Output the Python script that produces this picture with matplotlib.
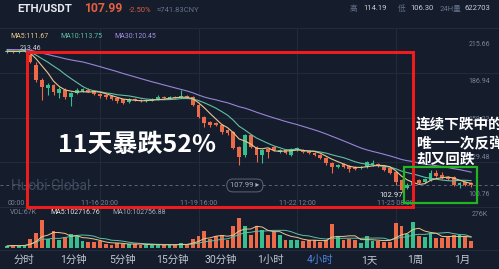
import numpy as np
import pandas as pd
import matplotlib
matplotlib.use('Agg')
import matplotlib.pyplot as plt
from matplotlib.patches import Rectangle
from matplotlib.transforms import blended_transform_factory

plt.rcParams['font.family'] = ['Roboto', 'Noto Sans CJK SC', 'DejaVu Sans']

# ETH/USDT 4h candles starting 11-14 00:00 (index 1 = first bar on screen)
prior_closes = [214.2, 213.5, 212.8, 213.9, 212.1, 211.4, 212.6, 211.9,
                210.7, 211.3, 210.2, 210.9, 209.8, 210.4, 209.6, 210.1]

opens = [209.6, 210.2, 209.5, 210.6, 207.5, 199.7, 188.3, 182.2, 184.5, 178.4,
         180.7, 175.3, 178.4, 180.0, 181.0, 179.8, 177.5, 176.5, 175.8, 174.5,
         173.5, 171.2, 174.0, 173.0, 172.0, 172.5, 173.5, 175.3, 174.6, 175.5,
         175.0, 175.8, 175.3, 169.2, 160.1, 156.3, 155.5, 154.0, 150.2, 148.7,
         137.3, 131.2, 146.4, 137.3, 131.2, 135.8, 137.3, 133.5, 135.0, 131.2,
         135.0, 135.0, 134.2, 132.7, 131.2, 128.9, 125.1, 122.1, 124.4, 123.0,
         122.1, 121.3, 122.1, 123.6, 124.4, 122.1, 121.3, 118.3, 112.2, 106.1,
         108.4, 112.2, 110.6, 112.2, 117.5, 116.0, 114.4, 114.4, 108.4, 110.6,
         109.9]
highs = [211.0, 210.8, 211.2, 213.46, 210.0, 202.0, 189.5, 186.0, 185.5, 183.0,
         182.0, 179.5, 182.0, 182.5, 181.8, 180.5, 178.5, 177.5, 176.5, 175.2,
         174.0, 174.8, 174.8, 173.8, 173.5, 174.2, 176.8, 176.0, 176.0, 176.2,
         180.5, 176.5, 176.0, 170.0, 161.0, 157.0, 156.5, 155.0, 151.0, 149.5,
         138.0, 147.5, 147.5, 138.0, 135.8, 136.5, 138.0, 135.8, 135.5, 136.5,
         137.5, 136.0, 135.0, 133.5, 132.0, 129.7, 125.9, 124.4, 125.0, 123.6,
         122.8, 122.8, 126.5, 127.4, 125.0, 122.8, 122.1, 119.0, 113.0, 109.9,
         111.5, 113.0, 113.7, 119.8, 119.8, 118.3, 115.2, 115.2, 110.6, 111.4,
         110.6]
lows = [208.9, 209.0, 209.1, 209.8, 201.5, 186.5, 173.0, 176.9, 176.9, 174.6,
        174.0, 168.5, 177.5, 179.0, 178.8, 176.8, 174.5, 174.0, 173.0, 171.0,
        170.2, 170.5, 172.0, 171.5, 171.2, 172.0, 173.0, 174.0, 174.0, 174.3,
        174.5, 174.2, 168.5, 159.0, 152.5, 152.5, 153.0, 147.2, 146.4, 135.5,
        123.6, 129.5, 136.5, 125.9, 125.1, 129.0, 134.5, 133.0, 132.0, 130.5,
        134.5, 133.0, 132.0, 130.5, 128.2, 123.6, 117.5, 121.3, 121.0, 118.3,
        119.8, 120.5, 121.3, 123.0, 122.0, 119.0, 116.8, 108.4, 102.97, 105.3,
        107.6, 109.0, 110.0, 111.4, 114.4, 113.0, 112.2, 107.6, 106.1, 107.6,
        106.9]
closes = [210.2, 209.5, 210.6, 211.2, 202.2, 188.3, 183.0, 184.5, 179.2, 181.5,
          175.3, 178.4, 180.7, 181.2, 179.5, 177.5, 176.2, 175.0, 174.0, 172.5,
          171.0, 174.0, 172.8, 172.0, 172.8, 173.5, 175.3, 174.6, 175.3, 174.8,
          175.8, 175.0, 169.2, 160.1, 155.5, 154.0, 154.0, 148.7, 147.9, 136.5,
          129.7, 146.4, 137.3, 131.2, 135.0, 133.5, 135.0, 135.0, 132.7, 135.8,
          136.5, 133.5, 132.7, 131.2, 128.9, 125.1, 122.1, 123.6, 122.1, 120.5,
          120.5, 122.1, 125.9, 125.1, 122.9, 119.8, 117.5, 110.6, 104.6, 108.4,
          110.6, 109.9, 113.0, 117.5, 115.2, 113.7, 112.9, 108.4, 109.9, 108.4,
          107.99]
# volume in K
volumes = [16, 24, 16, 24, 73, 122, 227, 73, 138, 65,
           89, 113, 97, 57, 49, 49, 57, 32, 24, 41,
           32, 32, 32, 24, 24, 24, 32, 24, 24, 24,
           41, 32, 73, 97, 138, 73, 97, 105, 65, 178,
           243, 178, 105, 178, 146, 105, 130, 105, 65, 65,
           65, 57, 65, 65, 49, 65, 194, 97, 65, 73,
           65, 41, 97, 57, 57, 49, 49, 203, 178, 113,
           211, 97, 89, 122, 81, 81, 89, 105, 105, 89,
           57]

time_idx = [0, 17, 34, 51, 68]
time_labels = ['00:00', '11-16 20:00', '11-19 16:00', '11-22 12:00', '11-25 08:00']
price_ticks = [215.66, 186.94, 158.22, 129.48, 100.76]
tabs = ['分时', '1分钟', '5分钟', '15分钟', '30分钟', '1小时', '4小时', '1天', '1周', '1月']
tab_x = [24, 73, 123, 172, 221, 270, 320, 369, 415, 462]

BG = '#151c2c'
UP = '#35bf8c'
DOWN = '#ec6a48'
GRID = '#222b3c'
AXT = '#7a8498'

W, H = 499, 269
fig = plt.figure(figsize=(W / 100, H / 100), dpi=100, facecolor=BG)


def frac(x0, y0, x1, y1):
    # pixel box (top-left origin) -> figure fraction rect
    return [x0 / W, 1 - y1 / H, (x1 - x0) / W, (y1 - y0) / H]


idx = np.arange(1, len(closes) + 1)
o = np.array(opens)
c = np.array(closes)
hi = np.array(highs)
lo = np.array(lows)
vol = np.array(volumes)
up = c >= o
cols = np.where(up, UP, DOWN)

full = pd.Series(prior_closes + closes)
ma5 = full.rolling(5, min_periods=1).mean().values[len(prior_closes):]
ma10 = full.rolling(10, min_periods=1).mean().values[len(prior_closes):]
ma30 = full.rolling(30, min_periods=1).mean().values[len(prior_closes):]

px_per_bar = 5.8
x0_px = 1.3
xlim = (-x0_px / px_per_bar, (W - x0_px) / px_per_bar)

# price panel
ax = fig.add_axes(frac(0, 28, W, 207))
ax.set_facecolor('none')
ax.set_xlim(*xlim)
ax.set_ylim(91.6, 227.84)
for s in ax.spines.values():
    s.set_visible(False)
ax.set_xticks([])
ax.set_yticks([])

for t in time_idx[1:]:
    ax.axvline(t, color=GRID, lw=0.8, zorder=0)
for yy in [0.0, 0.25, 0.5, 0.75]:
    ax.axhline(227.84 - (227.84 - 91.6) * yy, color=GRID, lw=0.8, zorder=0)

ax.vlines(idx, lo, hi, colors=cols, lw=0.8, zorder=2)
body = np.maximum(np.abs(c - o), 0.4)
ax.bar(idx, body, bottom=np.minimum(o, c), width=0.68, color=cols, zorder=3)

ax.plot(idx, ma30, color='#9b84d8', lw=0.8, zorder=4)
ax.plot(idx, ma10, color='#5fc0a5', lw=0.8, zorder=4)
ax.plot(idx, ma5, color='#e6c88e', lw=0.8, zorder=4)

last = closes[-1]
ax.axhline(last, color='#5d6679', lw=0.7, ls=(0, (3, 3)), zorder=1)
ax.text(42, last, '%.2f ▸' % last, color='#a8b0c0', fontsize=5.5, ha='center', va='center',
        bbox=dict(boxstyle='round,pad=0.45,rounding_size=0.8', fc=BG, ec='#5d6679', lw=0.7), zorder=5)

ylab = blended_transform_factory(ax.transAxes, ax.transData)
for p in price_ticks:
    ax.text(0.982, p, '%.2f' % p, transform=ylab, color=AXT, fontsize=5, ha='right', va='center', zorder=1)

tlab = blended_transform_factory(ax.transData, ax.transAxes)
for t, lab in zip(time_idx, time_labels):
    ax.text(max(t, 2.6), 0.022, lab, transform=tlab, color=AXT, fontsize=5, ha='center', va='center')

imax = int(np.argmax(hi))
imin = int(np.argmin(lo))
ax.text(idx[imax] + 1.0, hi[imax] - 1.5, '%.2f' % hi[imax], color='#c9ced8', fontsize=5, ha='center', va='center', zorder=6)
ax.text(idx[imin] + 0.3, lo[imin] - 2.5, '%.2f' % lo[imin], color='#e8ebf0', fontsize=5.5, ha='right', va='center', zorder=6)

# volume panel
axv = fig.add_axes(frac(0, 208, W, 248))
axv.set_facecolor('none')
axv.set_xlim(*xlim)
axv.set_ylim(0, 276 * 40 / 34)
for s in axv.spines.values():
    s.set_visible(False)
axv.set_xticks([])
axv.set_yticks([])
for t in time_idx[1:]:
    axv.axvline(t, color=GRID, lw=0.8, zorder=0)
axv.bar(idx, vol, width=0.68, color=cols, zorder=2)
vma5 = pd.Series(volumes).rolling(5, min_periods=1).mean().values
vma10 = pd.Series(volumes).rolling(10, min_periods=1).mean().values
axv.plot(idx, vma10, color='#5fc0a5', lw=0.7, zorder=3)
axv.plot(idx, vma5, color='#e6c88e', lw=0.7, zorder=3)
axv.text(0.978, 276, '276K', transform=blended_transform_factory(axv.transAxes, axv.transData),
         color=AXT, fontsize=5, ha='right', va='center')

# overlay in pixel coordinates for header, tabs and annotations
ov = fig.add_axes([0, 0, 1, 1])
ov.set_xlim(0, W)
ov.set_ylim(H, 0)
ov.axis('off')
ov.patch.set_alpha(0)

ov.plot([0, W], [28, 28], color=GRID, lw=0.8)
ov.plot([0, W], [207, 207], color=GRID, lw=0.8)
ov.plot([0, W], [250, 250], color=GRID, lw=0.8)

ov.text(17, 9, 'ETH/USDT', color='#e6e9ef', fontsize=8.2, fontweight='bold', va='center')
ov.text(84, 9, '107.99', color='#e5603f', fontsize=8.7, fontweight='bold', va='center')
ov.text(129, 9.5, '-2.50%', color='#d65d44', fontsize=5.5, va='center')
ov.text(157, 9.5, '≈741.83CNY', color='#66738c', fontsize=5.5, va='center')
ov.text(350, 8, '高', color='#66738c', fontsize=5.5, va='center')
ov.text(363, 8, '114.19', color='#c8cdd6', fontsize=5.5, va='center')
ov.text(398, 8, '低', color='#66738c', fontsize=5.5, va='center')
ov.text(410, 8, '106.30', color='#c8cdd6', fontsize=5.5, va='center')
ov.text(440, 8, '24H量', color='#66738c', fontsize=5.5, va='center')
ov.text(465, 8, '622703', color='#c8cdd6', fontsize=5.5, va='center')

ov.text(10, 37, 'MA5:111.67', color='#e6c88e', fontsize=5, va='center')
ov.text(60, 37, 'MA10:113.75', color='#5fc0a5', fontsize=5, va='center')
ov.text(114, 37, 'MA30:120.45', color='#a58fde', fontsize=5, va='center')

ov.text(10, 213, 'VOL:67K', color=AXT, fontsize=5, va='center')
ov.text(50, 213, 'MA5:102716.76', color='#e6e3da', fontsize=5, va='center')
ov.text(112, 213, 'MA10:102756.88', color='#9fb0b8', fontsize=5, va='center')

ov.text(11, 186, 'Huobi Global', color='#3e4a5e', fontsize=10, va='center', zorder=1)

for tx, lab in zip(tab_x, tabs):
    ov.text(tx, 260, lab, color='#4d87e0' if lab == '4小时' else '#c3c8d2', fontsize=7.5,
            ha='center', va='center')

ov.add_patch(Rectangle((27, 52), 386, 155, fill=False, ec='#ee1c1c', lw=2.2, zorder=8))
ov.add_patch(Rectangle((404, 167), 73, 36, fill=False, ec='#22b522', lw=1.6, zorder=8))

ov.text(58, 145, '11天暴跌52%', color='white', fontsize=18, fontweight='bold',
        va='center', family=['Noto Sans CJK SC', 'DejaVu Sans'], zorder=9)
for yy, line in zip([124, 143, 159], ['连续下跌中的', '唯一一次反弹', '却又回跌']):
    ov.text(416, yy, line, color='white', fontsize=10.5, fontweight='bold',
            va='center', family=['Noto Sans CJK SC', 'DejaVu Sans'], zorder=9)

fig.savefig('out.png', dpi=100, facecolor=BG)
